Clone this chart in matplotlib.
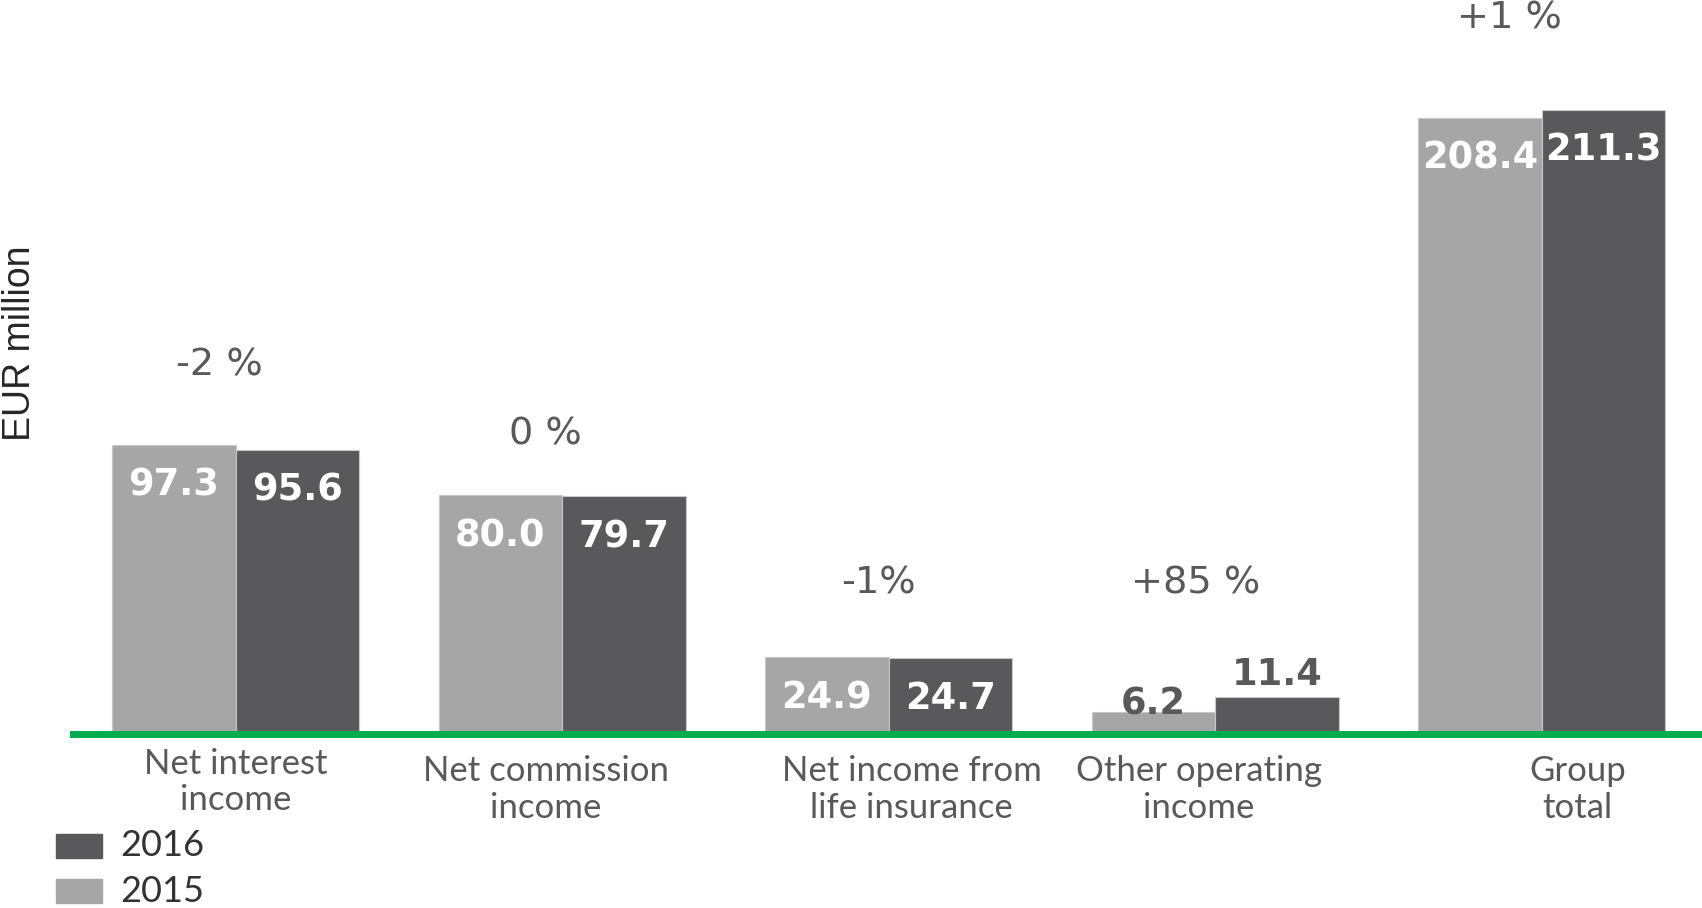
import matplotlib.pyplot as plt
from matplotlib.patches import Rectangle

categories = ["Net interest\nincome", "Net commission\nincome", "Net income from\nlife insurance",
              "Other operating\nincome", "Group\ntotal"]
values_2015 = [97.3, 80.0, 24.9, 6.2, 208.4]
values_2016 = [95.6, 79.7, 24.7, 11.4, 211.3]
changes = ["-2 %", "0 %", "-1%", "+85 %", "+1 %"]

# colours
c2015 = "#a6a6a6"
c2016 = "#59595b"
green = "#00ac4e"
txt = "#595959"

# layout of the labels (offsets in group units / data units)
change_pos = [(-0.05, 124.1), (-0.05, 100.6), (-0.03, 50.2), (-0.06, 50.2), (-0.10, 242.3)]
cat_shift = [0.0, -0.05, 0.07, -0.05, 0.11]
cat_y = [-17.6, -20.1, -20.1, -20.1, -20.1]

fig = plt.figure(figsize=(17.02, 9.08), dpi=100)
ax = fig.add_axes([0, 0, 1, 1])
ax.set_xlim(-0.7216, 4.491)
ax.set_ylim(-60.4, 248.6)
ax.axis("off")

w = 0.378
x = list(range(len(categories)))
b15 = ax.bar([i - w / 2 for i in x], values_2015, w, color=c2015, edgecolor="#c8c8c8", linewidth=0.8)
b16 = ax.bar([i + w / 2 for i in x], values_2016, w, color=c2016, edgecolor="#c8c8c8", linewidth=0.8)

# value labels: inside white for tall bars, dark above for short ones
for bars, vals, up in ((b15, values_2015, 6), (b16, values_2016, 16)):
    for bar, v in zip(bars, vals):
        cx = bar.get_x() + bar.get_width() / 2
        if v > 20:
            ax.annotate(f"{v:.1f}", (cx, v), xytext=(0, -29), textcoords="offset points",
                        ha="center", va="center", color="white", fontsize=26.5,
                        fontweight="bold", family="DejaVu Sans")
        else:
            ax.annotate(f"{v:.1f}", (cx, v), xytext=(0, up), textcoords="offset points",
                        ha="center", va="center", color=c2016, fontsize=26.5,
                        fontweight="bold", family="DejaVu Sans")

ax.axhline(-1.2, xmin=73 / 1702, xmax=1, color=green, lw=5.0, zorder=5)

for i, lab in enumerate(changes):
    dx, y = change_pos[i]
    ax.text(i + dx, y, lab, ha="center", va="center", fontsize=27.5, color=txt, family="DejaVu Sans")

for i, lab in enumerate(categories):
    ax.text(i + cat_shift[i], cat_y[i], lab, ha="center", va="center", fontsize=25,
            color=txt, family="Lato", linespacing=1.17)

fig.text(0.0115, 0.622, "EUR million", rotation=90, ha="center", va="center",
         fontsize=27, color="#262626", family="Liberation Sans")

# legend
for j, (lab, col) in enumerate((("2016", c2016), ("2015", c2015))):
    y0 = 908 - 858 - j * 45
    fig.add_artist(Rectangle((56 / 1702, y0 / 908), 46 / 1702, 24 / 908, transform=fig.transFigure,
                             color=col))
    fig.text(120 / 1702, (y0 + 12) / 908, lab, ha="left", va="center", fontsize=26,
             color="#333333", family="Lato")

fig.savefig("out.png", dpi=100)
